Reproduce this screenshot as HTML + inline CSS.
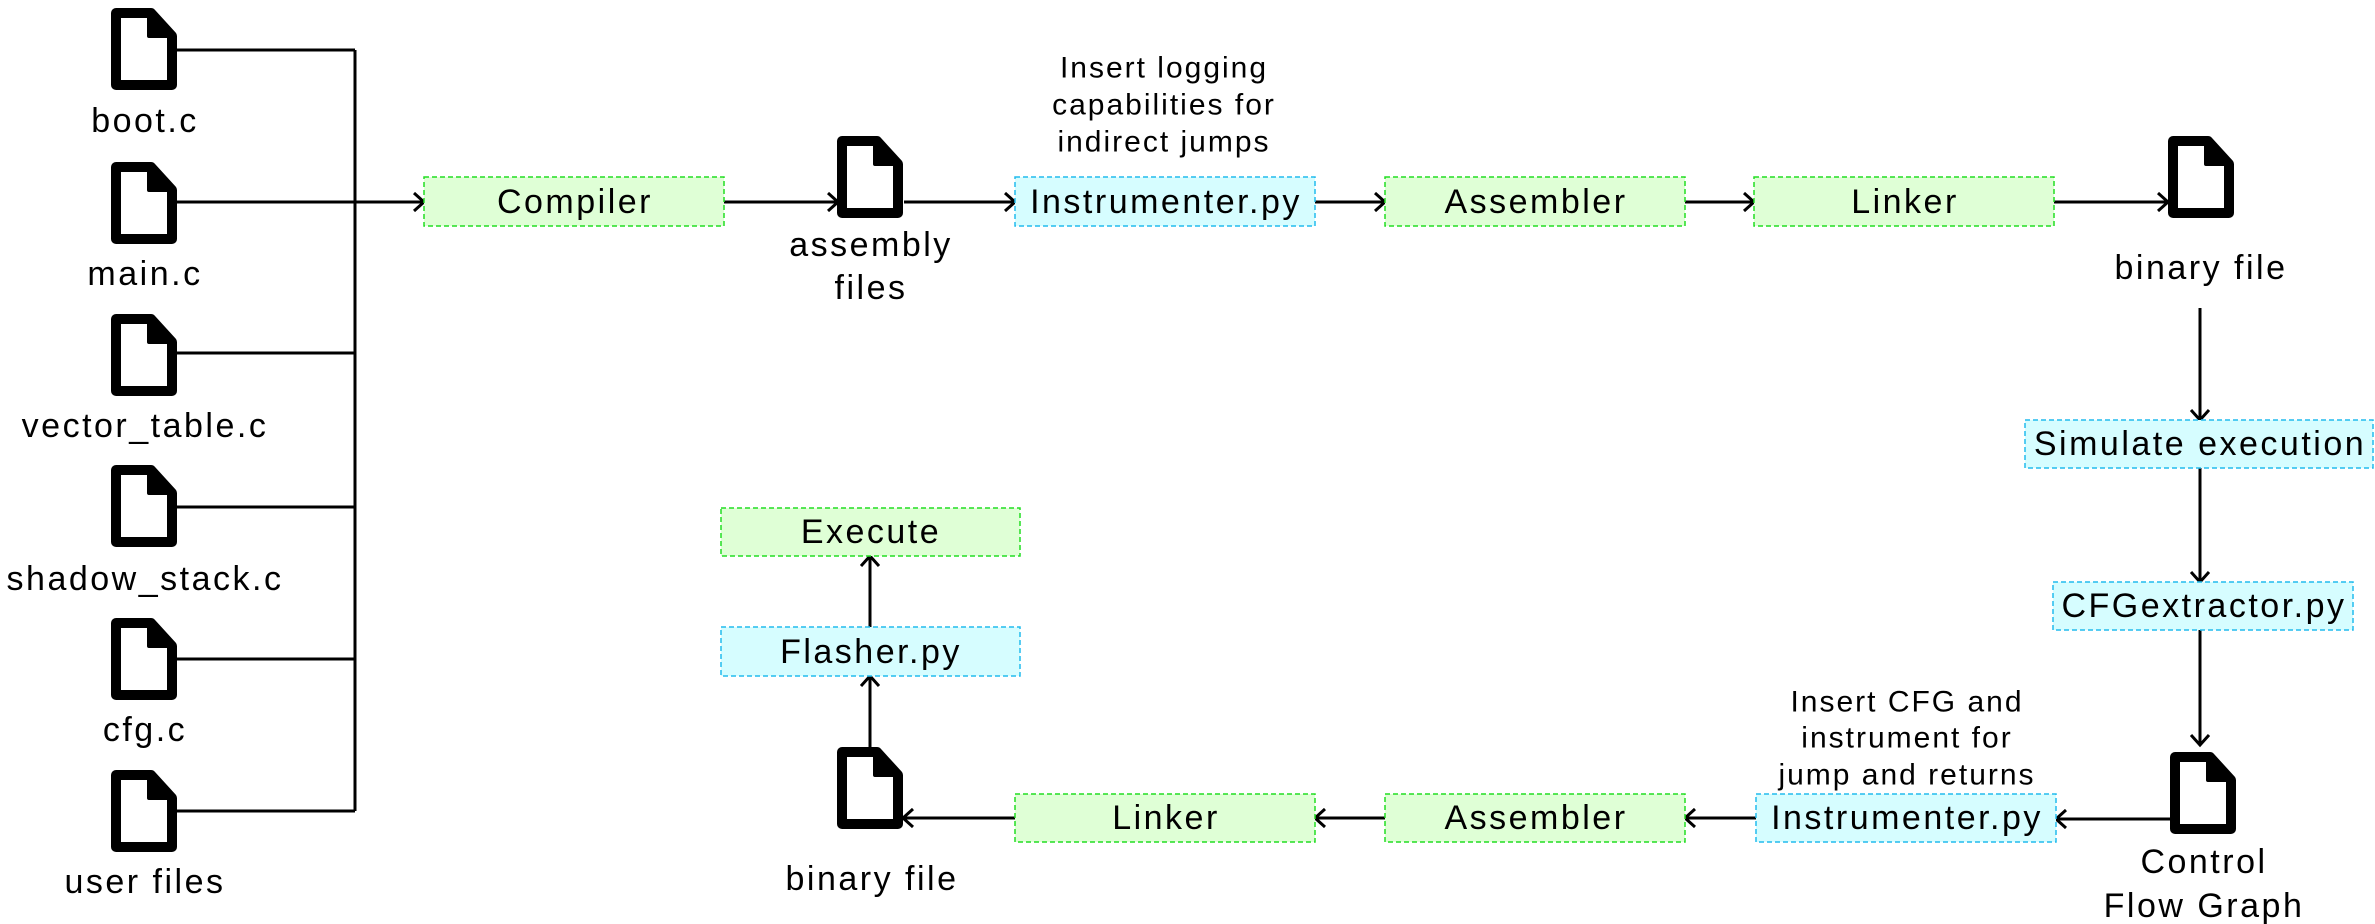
<!DOCTYPE html>
<html><head><meta charset="utf-8"><style>
html,body{margin:0;padding:0;background:#fff;}
svg{display:block;font-family:"Liberation Sans",sans-serif;}
</style></head><body>
<svg width="2375" height="924" viewBox="0 0 2375 924" xmlns="http://www.w3.org/2000/svg">
<defs>
<marker id="a" markerWidth="20" markerHeight="20" refX="13" refY="10" orient="auto" markerUnits="userSpaceOnUse">
<polyline points="3,1 13,10 3,19" fill="none" stroke="#000" stroke-width="3"/>
</marker>
<g id="doc">
<path d="M5,5 H40 L61,28 V77 H5 Z" fill="#fff" stroke="#000" stroke-width="10" stroke-linejoin="round"/>
<path d="M38,5 V28 H61 Z" fill="#000" stroke="#000" stroke-width="4" stroke-linejoin="round"/>
</g>
</defs>
<g stroke="#000" stroke-width="3" fill="none">
<line x1="177" y1="50" x2="355" y2="50"/>
<line x1="177" y1="202" x2="355" y2="202"/>
<line x1="177" y1="353" x2="355" y2="353"/>
<line x1="177" y1="507" x2="355" y2="507"/>
<line x1="177" y1="659" x2="355" y2="659"/>
<line x1="177" y1="811" x2="355" y2="811"/>
<line x1="355" y1="50" x2="355" y2="811"/>
<line x1="355" y1="202" x2="424" y2="202" marker-end="url(#a)"/>
<line x1="724" y1="202" x2="838" y2="202" marker-end="url(#a)"/>
<line x1="904" y1="202" x2="1015" y2="202" marker-end="url(#a)"/>
<line x1="1315" y1="202" x2="1385" y2="202" marker-end="url(#a)"/>
<line x1="1685" y1="202" x2="1754" y2="202" marker-end="url(#a)"/>
<line x1="2054" y1="202" x2="2168" y2="202" marker-end="url(#a)"/>
<line x1="2200" y1="308" x2="2200" y2="420" marker-end="url(#a)"/>
<line x1="2200" y1="468" x2="2200" y2="582" marker-end="url(#a)"/>
<line x1="2200" y1="630" x2="2200" y2="745" marker-end="url(#a)"/>
<line x1="2170" y1="819" x2="2056" y2="819" marker-end="url(#a)"/>
<line x1="1756" y1="818" x2="1685" y2="818" marker-end="url(#a)"/>
<line x1="1385" y1="818" x2="1315" y2="818" marker-end="url(#a)"/>
<line x1="1015" y1="818" x2="903" y2="818" marker-end="url(#a)"/>
<line x1="870" y1="747" x2="870" y2="676" marker-end="url(#a)"/>
<line x1="870" y1="627" x2="870" y2="556" marker-end="url(#a)"/>
</g>
<use href="#doc" x="111" y="8"/>
<use href="#doc" x="111" y="162"/>
<use href="#doc" x="111" y="314"/>
<use href="#doc" x="111" y="465"/>
<use href="#doc" x="111" y="618"/>
<use href="#doc" x="111" y="770"/>
<use href="#doc" x="837" y="136"/>
<use href="#doc" x="2168" y="136"/>
<use href="#doc" x="2170" y="752"/>
<use href="#doc" x="837" y="747"/>
<g stroke-width="1.5" stroke-dasharray="5,3">
<rect x="424" y="177" width="300" height="49" fill="#dfffd6" stroke="#22dd22"/>
<rect x="1015" y="177" width="300" height="49" fill="#d6fdff" stroke="#22bbee"/>
<rect x="1385" y="177" width="300" height="49" fill="#dfffd6" stroke="#22dd22"/>
<rect x="1754" y="177" width="300" height="49" fill="#dfffd6" stroke="#22dd22"/>
<rect x="2025" y="420" width="348" height="48" fill="#d6fdff" stroke="#22bbee"/>
<rect x="2053" y="582" width="300" height="48" fill="#d6fdff" stroke="#22bbee"/>
<rect x="1756" y="794" width="300" height="48" fill="#d6fdff" stroke="#22bbee"/>
<rect x="1385" y="794" width="300" height="48" fill="#dfffd6" stroke="#22dd22"/>
<rect x="1015" y="794" width="300" height="48" fill="#dfffd6" stroke="#22dd22"/>
<rect x="721" y="627" width="299" height="49" fill="#d6fdff" stroke="#22bbee"/>
<rect x="721" y="508" width="299" height="48" fill="#dfffd6" stroke="#22dd22"/>
</g>
<g font-size="34" letter-spacing="2.5" text-anchor="middle" dominant-baseline="central" fill="#000">
<text x="575" y="202">Compiler</text>
<text x="1166" y="202">Instrumenter.py</text>
<text x="1536" y="202">Assembler</text>
<text x="1905" y="202">Linker</text>
<text x="2200" y="444">Simulate execution</text>
<text x="2204" y="606">CFGextractor.py</text>
<text x="1907" y="818">Instrumenter.py</text>
<text x="1536" y="818">Assembler</text>
<text x="1166" y="818">Linker</text>
<text x="871" y="652">Flasher.py</text>
<text x="871" y="532">Execute</text>
<text x="145" y="121">boot.c</text>
<text x="145" y="274">main.c</text>
<text x="145" y="426">vector_table.c</text>
<text x="145" y="579">shadow_stack.c</text>
<text x="145" y="730">cfg.c</text>
<text x="145" y="882">user files</text>
<text x="871" y="245">assembly</text>
<text x="871" y="288">files</text>
<text x="2201" y="268">binary file</text>
<text x="2204" y="862">Control</text>
<text x="2204" y="906">Flow Graph</text>
<text x="872" y="879">binary file</text>
</g>
<g font-size="30" letter-spacing="2" text-anchor="middle" dominant-baseline="central" fill="#000">
<text x="1164" y="68">Insert logging</text>
<text x="1164" y="105">capabilities for</text>
<text x="1164" y="142">indirect jumps</text>
<text x="1907" y="702">Insert CFG and</text>
<text x="1907" y="738">instrument for</text>
<text x="1907" y="775">jump and returns</text>
</g>
</svg>
</body></html>
